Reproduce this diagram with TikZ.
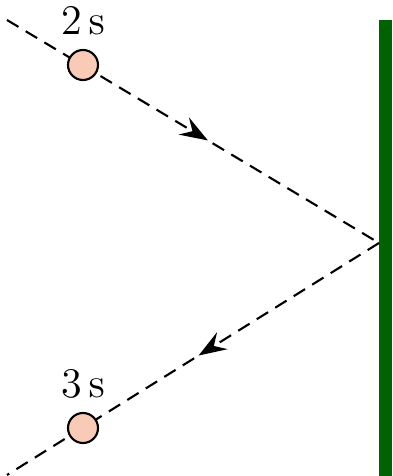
\documentclass[tikz,border=0pt]{standalone}
\usepackage{amsmath}
\usepackage{tikz}
\usetikzlibrary{decorations.markings,positioning,arrows.meta}
\definecolor{ballfill}{RGB}{249,202,182}
\definecolor{wallgreen}{RGB}{0,98,0}

\begin{document}
\begin{tikzpicture}[scale=1.0,
  ray/.style={dashed,dash pattern=on 3.8pt off 2.4pt,line width=0.6pt},
  ball/.style={draw,circle,fill=ballfill,minimum size=0.3cm,inner sep=0pt,line width=0.6pt},
  lbl/.style={font=\fontsize{13}{15}\selectfont,inner sep=1pt},
  fwd/.style={postaction={decorate},decoration={markings,
    mark=at position #1 with {\arrow{Stealth[length=0.28cm,width=0.2cm,inset=0.1cm]}}}}]
  \useasboundingbox (0,0) rectangle (3.92,4.76);
  % ---------- wall ----------
  \fill[wallgreen] (3.79,0) rectangle (3.92,4.56);
  % ---------- rays ----------
  \coordinate (A) at (0.07,4.56);
  \coordinate (P) at (3.79,2.33);
  \coordinate (B) at (0.07,0.01);
  \draw[ray,fwd=0.54] (A) -- (P);
  \draw[ray,fwd=0.485] (P) -- (B);
  % ---------- balls ----------
  \node[ball] (b2) at (0.83,4.11) {};
  \node[ball] (b3) at (0.83,0.48) {};
  \node[lbl,above=0.1cm of b2] (t2) {$2\,\mathrm{s}$};
  \node[lbl,above=0.1cm of b3] (t3) {$3\,\mathrm{s}$};
\end{tikzpicture}
\end{document}
